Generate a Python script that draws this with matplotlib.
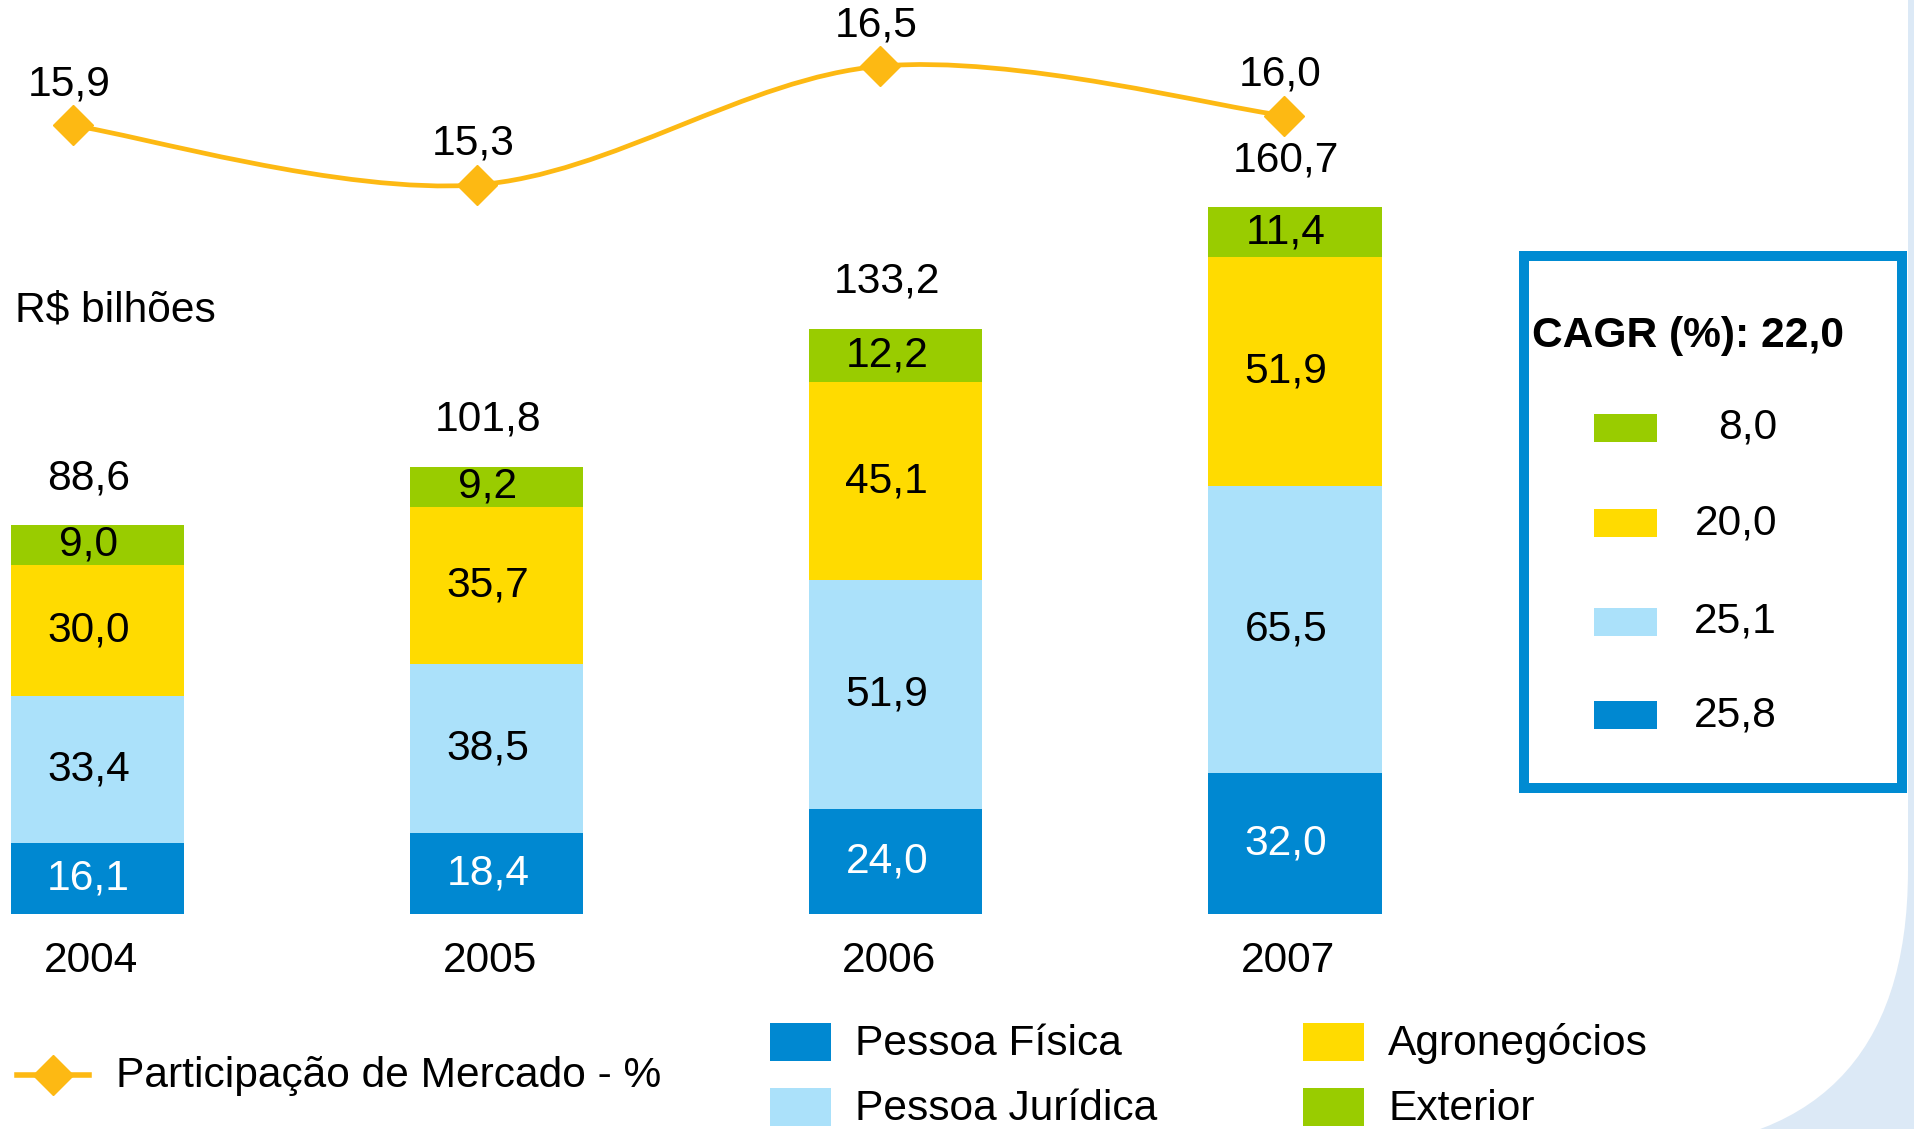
import matplotlib
matplotlib.use("Agg")
import matplotlib.pyplot as plt
from matplotlib.patches import Rectangle, FancyBboxPatch, PathPatch
from matplotlib.path import Path

plt.rcParams['font.family'] = ['Liberation Sans', 'DejaVu Sans']
FS = 30.6

# data
years = ['2004', '2005', '2006', '2007']
pessoa_fisica = [16.1, 18.4, 24.0, 32.0]
pessoa_juridica = [33.4, 38.5, 51.9, 65.5]
agronegocios = [30.0, 35.7, 45.1, 51.9]
exterior = [9.0, 9.2, 12.2, 11.4]
totals = [88.6, 101.8, 133.2, 160.7]
market_share = [15.9, 15.3, 16.5, 16.0]
cagr_total = 22.0
cagr_values = [8.0, 20.0, 25.1, 25.8]   # Exterior, Agronegócios, PJ, PF

c_pf = '#0088D1'
c_pj = '#ABE1FA'
c_agro = '#FFDB00'
c_ext = '#99CC00'
c_line = '#FDB913'


def fmt(v):
    return f'{v:.1f}'.replace('.', ',')


fig = plt.figure(figsize=(19.14, 11.29), dpi=100, facecolor='#DCE9F6')

# background / overlay in pixel coordinates
bg = fig.add_axes([0, 0, 1, 1])
bg.set_xlim(0, 1914)
bg.set_ylim(1129, 0)
bg.axis('off')
bg.add_patch(FancyBboxPatch((-400, -400), 1908 + 400, 1150 + 400,
                            boxstyle='round,pad=0,rounding_size=280',
                            fc='white', ec='none'))

# stacked bars
ax = fig.add_axes([0, 0, 1, 1])
ax.patch.set_alpha(0)
ax.axis('off')
ax.set_xlim(-0.2448, 4.551)
ax.set_ylim(-48.93, 208.0)

x = list(range(len(years)))
w = 0.4335
bottom = [0.0] * len(years)
for vals, col, tcol in [(pessoa_fisica, c_pf, 'white'),
                        (pessoa_juridica, c_pj, 'black'),
                        (agronegocios, c_agro, 'black'),
                        (exterior, c_ext, 'black')]:
    ax.bar(x, vals, w, bottom=bottom, color=col, linewidth=0)
    for i, v in enumerate(vals):
        ax.annotate(fmt(v), (x[i], bottom[i] + v / 2), xytext=(-9, 0),
                    textcoords='offset pixels', ha='center', va='center',
                    fontsize=FS, color=tcol)
    bottom = [b + v for b, v in zip(bottom, vals)]

for i, t in enumerate(totals):
    ax.annotate(fmt(t), (x[i], bottom[i]), xytext=(-9, 47),
                textcoords='offset pixels', ha='center', va='center', fontsize=FS)
    ax.annotate(years[i], (x[i], 0), xytext=(-7, -47),
                textcoords='offset pixels', ha='center', va='center', fontsize=FS)

# market share line (smoothed)
lx = fig.add_axes([0, 0, 1, 1])
lx.patch.set_alpha(0)
lx.axis('off')
lx.set_xlim(-0.1808, 4.560)
lx.set_ylim(5.753, 17.169)

pts = list(zip(x, market_share))
verts = [pts[0]]
codes = [Path.MOVETO]
for i in range(len(pts) - 1):
    p0 = pts[max(i - 1, 0)]
    p1 = pts[i]
    p2 = pts[i + 1]
    p3 = pts[min(i + 2, len(pts) - 1)]
    c1 = (p1[0] + (p2[0] - p0[0]) / 6, p1[1] + (p2[1] - p0[1]) / 6)
    c2 = (p2[0] - (p3[0] - p1[0]) / 6, p2[1] - (p3[1] - p1[1]) / 6)
    verts += [c1, c2, p2]
    codes += [Path.CURVE4] * 3
lx.add_patch(PathPatch(Path(verts, codes), fill=False, ec=c_line, lw=3.4))
lx.plot(x, market_share, ls='none', marker='D', ms=20, color=c_line, mec=c_line)
for i, v in enumerate(market_share):
    lx.annotate(fmt(v), (x[i], v), xytext=(-4, 41), textcoords='offset pixels',
                ha='center', va='center', fontsize=FS)

# unit label
bg.text(15, 311, 'R$ bilhões', fontsize=FS, ha='left', va='center')

# CAGR box
bg.add_patch(Rectangle((1524, 256), 378, 532, fill=False, ec='#008BD2', lw=7.2))
bg.text(1532, 336, f'CAGR (%): {fmt(cagr_total)}', fontsize=FS, fontweight='bold',
        ha='left', va='center')
box_cols = [c_ext, c_agro, c_pj, c_pf]
box_y = [428, 523, 622, 715]
for col, yy, v in zip(box_cols, box_y, cagr_values):
    bg.add_patch(Rectangle((1594, yy - 14), 63, 28, fc=col, ec='none'))
    bg.text(1777, yy, fmt(v), fontsize=FS, ha='right', va='center')

# bottom legend
bg.plot([17, 89], [1075, 1075], color=c_line, lw=4)
bg.plot([53], [1075], marker='D', ms=20, color=c_line)
bg.text(116, 1076, 'Participação de Mercado - %', fontsize=FS, ha='left', va='center')

legend_items = [(770, 1042, c_pf, 'Pessoa Física'),
                (770, 1107, c_pj, 'Pessoa Jurídica'),
                (1303, 1042, c_agro, 'Agronegócios'),
                (1303, 1107, c_ext, 'Exterior')]
for lxp, ly, col, lab in legend_items:
    bg.add_patch(Rectangle((lxp, ly - 19), 61, 38, fc=col, ec='none'))
    bg.text(lxp + 85, ly + 2, lab, fontsize=FS, ha='left', va='center')

fig.savefig('out.png', dpi=100, facecolor=fig.get_facecolor())
